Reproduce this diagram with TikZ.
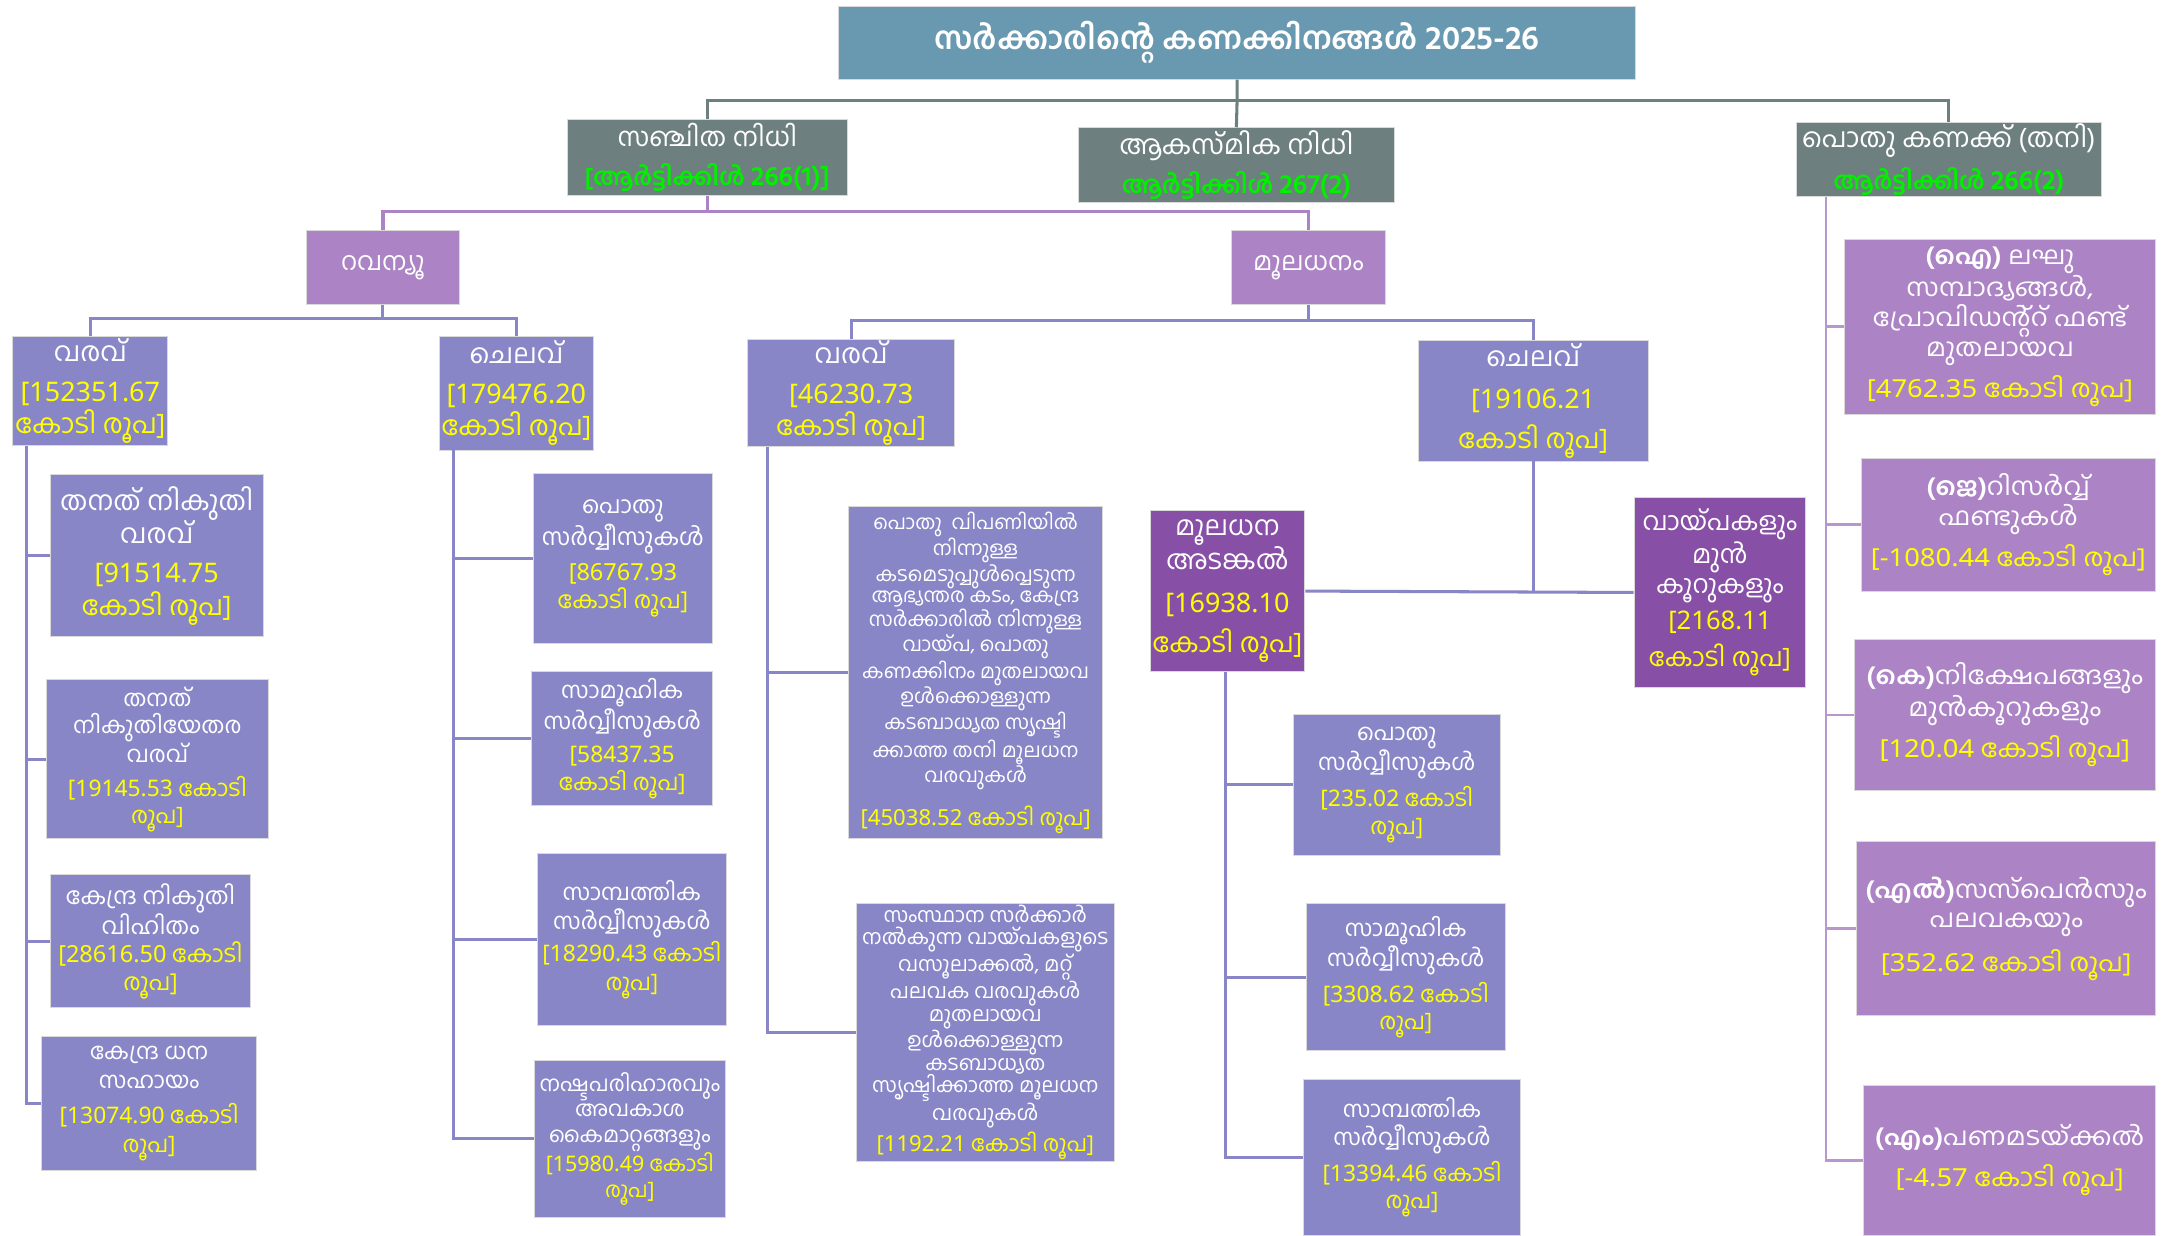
\documentclass[tikz,border=0pt]{standalone}
\usepackage{fontspec}
\setmainfont[Script=Malayalam]{Hind Kochi}
\newfontfamily\wideml[Script=Malayalam,FakeStretch=1.08]{Hind Kochi}
\newfontfamily\numf{Noto Sans}
\newfontfamily\numw[FakeStretch=1.1]{Noto Sans}
\definecolor{ttl}{HTML}{6999B0}
\definecolor{gryc}{HTML}{6E7F80}
\definecolor{lpur}{HTML}{AC83C5}
\definecolor{peri}{HTML}{8886C7}
\definecolor{dpur}{HTML}{8750A6}
\definecolor{yel}{HTML}{FFFF00}
\definecolor{grn}{HTML}{00F000}
\newcommand\ylw[1]{\textcolor{yel}{#1}}
\newcommand\grn[1]{\textcolor{grn}{\bfseries #1}}
\newcommand\nf[1]{{\numf #1}}
\newcommand\nw[1]{{\numw #1}}
\newcommand\fsz[2]{\fontsize{#1}{#2}\selectfont}
\newcommand\mybox[7]{%
  \pgfmathsetmacro\bw{#4-#2}\pgfmathsetmacro\bh{#5-#3}%
  \node[#6, minimum width=\bw pt, minimum height=\bh pt] (#1) at (#2,#3) {#7};}
\tikzset{
  bx/.style={draw=white!85!black, line width=0.6pt, inner sep=1pt, align=center, text=white, anchor=north west},
  tbox/.style={bx, fill=ttl},
  gbox/.style={bx, fill=gryc},
  lbox/.style={bx, fill=lpur},
  pbox/.style={bx, fill=peri},
  dbox/.style={bx, fill=dpur},
  gl/.style={draw=gryc, line width=2.2pt},
  pl/.style={draw=lpur, line width=2.4pt},
  bl/.style={draw=peri, line width=2.2pt},
  rl/.style={draw=lpur!85!white, line width=2pt},
}
\begin{document}
\begin{tikzpicture}[x=1pt,y=-1pt]
\useasboundingbox (0,0) rectangle (1568,893);
% top
\mybox{title}{606}{4}{1182}{57}{tbox,font=\fsz{22.5}{26}\bfseries}{സർക്കാരിന്റെ കണക്കിനങ്ങൾ {\fsz{24}{26}2025-26}}
\mybox{s1}{410}{86}{612}{141}{gbox,font=\fsz{19}{22}}{സഞ്ചിത നിധി\\[6pt]{\fsz{17.5}{20}\grn{[ആർട്ടിക്കിൾ {\fsz{19.5}{20}266(1)]}}}}
\mybox{s2}{779}{92}{1008}{146}{gbox,font=\fsz{19.5}{22}}{ആകസ്മിക നിധി\\[6pt]{\fsz{17.5}{20}\grn{ആർട്ടിക്കിൾ {\fsz{19.5}{20}267(2)}}}}
\mybox{s3}{1298}{88}{1519}{142}{gbox,font=\fsz{19.5}{22}}{പൊതു കണക്ക് (തനി)\\[6pt]{\fsz{17.5}{20}\grn{ആർട്ടിക്കിൾ {\fsz{19.5}{20}266(2)}}}}
% level 2
\mybox{rev}{221}{166}{332}{220}{lbox,font=\fsz{18.5}{22}}{റവന്യൂ}
\mybox{cap}{890}{166}{1001}{220}{lbox,font=\fsz{18.5}{22}}{മൂലധനം}
% level 3
\mybox{rr}{9}{243}{121}{322}{pbox,font=\fsz{19.5}{23}}{വരവ്\\[6pt]\ylw{\nf{[152351.67}}\\\ylw{കോടി രൂപ]}}
\mybox{re}{317}{243}{429}{325}{pbox,font=\fsz{19.5}{23}}{ചെലവ്\\[6pt]\ylw{\nf{[179476.20}}\\\ylw{കോടി രൂപ]}}
\mybox{cr}{540}{245}{690}{322}{pbox,font=\fsz{19.5}{23}}{വരവ്\\[6pt]\ylw{\nf{[46230.73}}\\\ylw{കോടി രൂപ]}}
\mybox{ce}{1025}{246}{1191}{333}{pbox,font=\fsz{19.5}{23}}{ചെലവ്\\[7pt]\ylw{\nf{[19106.21}}\\[6pt]\ylw{കോടി രൂപ]}}
% revenue receipts children
\mybox{rr1}{36}{343}{190}{460}{pbox,font=\fsz{19.5}{24}}{തനത് നികുതി\\വരവ്\\[4pt]\ylw{\nf{[91514.75}}\\\ylw{കോടി രൂപ]}}
\mybox{rr2}{33}{491}{194}{606}{pbox,font=\fsz{16.5}{19.5}}{തനത്\\നികുതിയേതര\\വരവ്\\[5pt]\ylw{\nf{[19145.53} കോടി}\\\ylw{രൂപ]}}
\mybox{rr3}{36}{632}{181}{728}{pbox,font=\fsz{17}{20}}{കേന്ദ്ര നികുതി\\വിഹിതം\\\ylw{\nf{[28616.50} കോടി}\\\ylw{രൂപ]}}
\mybox{rr4}{30}{749}{185}{846}{pbox,font=\fsz{16.5}{21}}{കേന്ദ്ര ധന\\സഹായം\\[4pt]\ylw{\nf{[13074.90} കോടി}\\\ylw{രൂപ]}}
% revenue expenditure children
\mybox{re1}{385}{342}{515}{465}{pbox,font=\fsz{17}{20}}{പൊതു\\സർവ്വീസുകൾ\\[6pt]\ylw{\nf{[86767.93}}\\\ylw{കോടി രൂപ]}}
\mybox{re2}{384}{485}{515}{582}{pbox,font=\fsz{16.5}{20}}{സാമൂഹിക\\സർവ്വീസുകൾ\\[4pt]\ylw{\nf{[58437.35}}\\\ylw{കോടി രൂപ]}}
\mybox{re3}{388}{617}{525}{741}{pbox,font=\fsz{16.5}{21}}{സാമ്പത്തിക\\സർവ്വീസുകൾ\\[2pt]\ylw{\nf{[18290.43} കോടി}\\\ylw{രൂപ]}}
\mybox{re4}{386}{766}{524}{880}{pbox,font=\fsz{15.5}{18.5}}{നഷ്ടപരിഹാരവും\\അവകാശ\\കൈമാറ്റങ്ങളും\\\ylw{\nf{[15980.49} കോടി}\\\ylw{രൂപ]}}
% capital receipts children
\mybox{cr1}{613}{366}{797}{606}{pbox,font=\fsz{14.3}{15.6}}{പൊതു\ \ വിപണിയിൽ\\നിന്നുള്ള\\കടമെടുപ്പുൾപ്പെടുന്ന\\ആഭ്യന്തര കടം, കേന്ദ്ര\\സർക്കാരിൽ നിന്നുള്ള\\വായ്പ, പൊതു\\കണക്കിനം മുതലായവ\\ഉൾക്കൊള്ളുന്ന\\കടബാധ്യത സൃഷ്ടി\\ക്കാത്ത തനി മൂലധന\\വരവുകൾ\\[10pt]{\fsz{16}{18}\ylw{\nf{[45038.52} കോടി രൂപ]}}}
\mybox{cr2}{619}{653}{805}{838}{pbox,font=\fsz{14.8}{16.2}}{സംസ്ഥാന സർക്കാർ\\നൽകുന്ന വായ്പകളുടെ\\വസൂലാക്കൽ, മറ്റ്\\പലവക വരവുകൾ\\മുതലായവ\\ഉൾക്കൊള്ളുന്ന\\കടബാധ്യത\\സൃഷ്ടിക്കാത്ത മൂലധന\\വരവുകൾ\\[2pt]{\fsz{16}{18}\ylw{\nf{[1192.21} കോടി രൂപ]}}}
% capital expenditure
\mybox{ma}{831}{369}{943}{485}{dbox,font=\fsz{19.5}{23}}{മൂലധന\\അടങ്കൽ\\[8pt]\ylw{\nf{[16938.10}}\\[6pt]\ylw{കോടി രൂപ]}}
\mybox{vp}{1181}{359}{1305}{497}{dbox,font=\fsz{18.5}{22}}{വായ്പകളും\\മുൻ\\കൂറുകളും\\[4pt]\ylw{\nf{[2168.11}}\\[5pt]\ylw{കോടി രൂപ]}}
\mybox{ma1}{935}{516}{1084}{618}{pbox,font=\fsz{16.5}{20}}{പൊതു\\സർവ്വീസുകൾ\\[4pt]\ylw{\nf{[235.02} കോടി}\\\ylw{രൂപ]}}
\mybox{ma2}{944}{653}{1088}{759}{pbox,font=\fsz{16.5}{20}}{സാമൂഹിക\\സർവ്വീസുകൾ\\[4pt]\ylw{\nf{[3308.62} കോടി}\\\ylw{രൂപ]}}
\mybox{ma3}{942}{780}{1099}{893}{pbox,font=\fsz{16.5}{20}}{സാമ്പത്തിക\\സർവ്വീസുകൾ\\[4pt]\ylw{\nf{[13394.46} കോടി}\\\ylw{രൂപ]}}
% public account
\mybox{p1}{1333}{173}{1558}{299}{lbox,font=\wideml\fsz{18}{21.5}}{{\bfseries(ഐ)} ലഘു\\സമ്പാദ്യങ്ങൾ,\\പ്രോവിഡന്റ്റ് ഫണ്ട്\\മുതലായവ\\[6pt]\ylw{\nw{[4762.35} കോടി രൂപ]}}
\mybox{p2}{1345}{331}{1558}{427}{lbox,font=\wideml\fsz{18}{21.5}}{{\bfseries(ജെ)}റിസർവ്വ്\\ഫണ്ടുകൾ\\[6pt]\ylw{\nw{[-1080.44} കോടി രൂപ]}}
\mybox{p3}{1340}{462}{1558}{571}{lbox,font=\wideml\fsz{18}{21.5}}{{\bfseries(കെ)}നിക്ഷേപങ്ങളും\\മുൻകൂറുകളും\\[6pt]\ylw{\nw{[120.04} കോടി രൂപ]}}
\mybox{p4}{1342}{608}{1558}{734}{lbox,font=\wideml\fsz{18}{21.5}}{{\bfseries(എൽ)}സസ്പെൻസും\\പലവകയും\\[8pt]\ylw{\nw{[352.62} കോടി രൂപ]}}
\mybox{p5}{1347}{784}{1558}{893}{lbox,font=\wideml\fsz{18}{21.5}}{{\bfseries(എം)}പണമടയ്ക്കൽ\\[8pt]\ylw{\nw{[-4.57} കോടി രൂപ]}}
% helper coordinates
\coordinate (yT) at (0,73);
\coordinate (yS) at (0,153);
\coordinate (yR) at (0,230);
\coordinate (yC) at (0,232);
\coordinate (xA) at (19.5,0);
\coordinate (xB) at (328,0);
\coordinate (xC) at (554.5,0);
\coordinate (xD) at (886,0);
\coordinate (xP) at (1320,0);
% connectors top
\draw[gl] (title.south) -- (title.south |- yT) -- (s2.north);
\draw[gl] (s1.north) |- (s3.north |- yT) -- (s3.north);
% sanchita
\draw[pl] (s1.south) -- (s1.south |- yS);
\draw[pl] (rev.north) |- (cap.north |- yS) -- (cap.north);
% revenue
\draw[bl] (rev.south) -- (rev.south |- yR);
\draw[bl] (rr.north) |- (re.north |- yR) -- (re.north);
% capital
\draw[bl] (cap.south) -- (cap.south |- yC);
\draw[bl] (cr.north) |- (ce.north |- yC) -- (ce.north);
% rails
\draw[bl] (rr.south -| xA) -- (xA |- rr4.west) -- (rr4.west);
\foreach \c in {rr1,rr2,rr3} \draw[bl] (xA |- \c.west) -- (\c.west);
\draw[bl] (re.south -| xB) -- (xB |- re4.west) -- (re4.west);
\foreach \c in {re1,re2,re3} \draw[bl] (xB |- \c.west) -- (\c.west);
\draw[bl] (cr.south -| xC) -- (xC |- cr2.west) -- (cr2.west);
\draw[bl] (xC |- cr1.west) -- (cr1.west);
\draw[bl] (ma.south -| xD) -- (xD |- ma3.west) -- (ma3.west);
\foreach \c in {ma1,ma2} \draw[bl] (xD |- \c.west) -- (\c.west);
\draw[bl] (ce.south) -- (ce.south |- ma.east);
\draw[bl] (ma.east) -- (vp.west);
\draw[rl] (s3.south -| xP) -- (xP |- p5.west) -- (p5.west);
\foreach \c in {p1,p2,p3,p4} \draw[rl] (xP |- \c.west) -- (\c.west);
\end{tikzpicture}
\end{document}
